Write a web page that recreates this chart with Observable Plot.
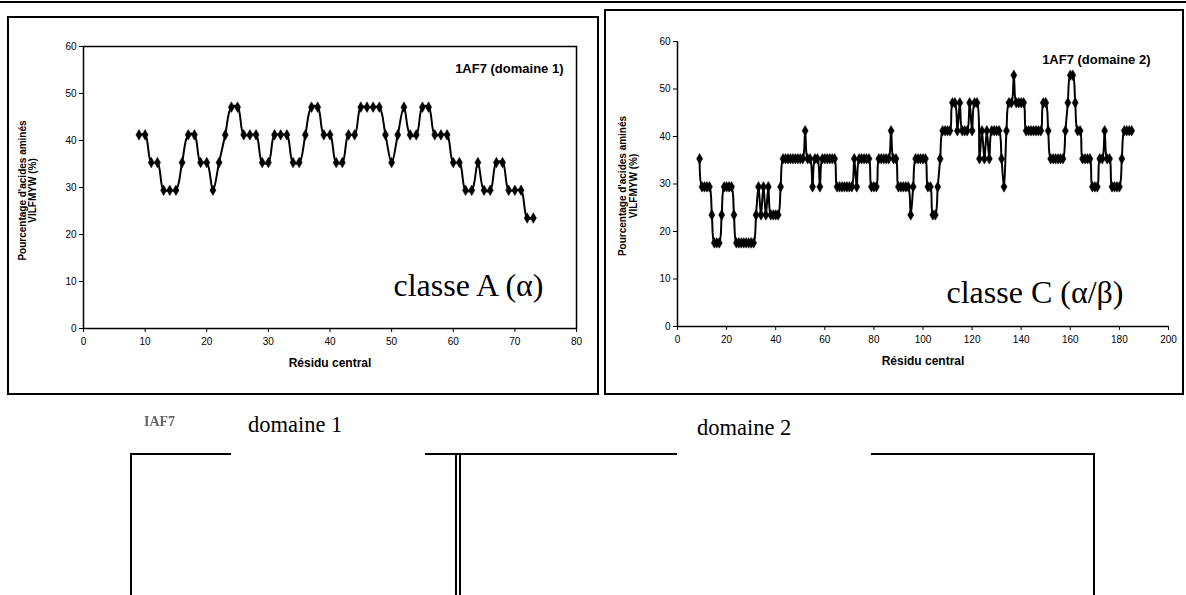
<!DOCTYPE html>
<html><head><meta charset="utf-8">
<script src="https://cdn.jsdelivr.net/npm/d3@7"></script>
<script src="https://cdn.jsdelivr.net/npm/@observablehq/plot@0.6"></script>
<style>
html,body{margin:0;padding:0;background:#fff;}
body{width:1186px;height:595px;position:relative;overflow:hidden;font-family:"Liberation Sans",Arial,sans-serif;}
.box{position:absolute;border:2px solid #000;box-sizing:border-box;}
.hl{position:absolute;height:2px;background:#000;}
.vl{position:absolute;width:2px;background:#000;}
.serif{position:absolute;font-family:"Liberation Serif","Times New Roman",serif;color:#000;white-space:nowrap;}
svg.chart{position:absolute;overflow:visible;}
</style></head><body>
<div class="hl" style="left:0;top:1px;width:1186px;"></div>
<div class="box" style="left:7px;top:16px;width:592px;height:379px;"></div>
<div class="box" style="left:604px;top:9px;width:580px;height:386px;"></div>

<div class="serif" style="left:144px;top:414px;font-size:14px;color:#666;filter:blur(0.6px);font-weight:bold;">IAF7</div>
<div class="serif" style="left:248px;top:412px;font-size:22.5px;">domaine 1</div>
<div class="serif" style="left:697px;top:415px;font-size:22.5px;">domaine 2</div>
<div class="hl" style="left:130px;top:453px;width:101px;"></div>
<div class="hl" style="left:425px;top:453px;width:33px;"></div>
<div class="hl" style="left:458px;top:453px;width:219px;"></div>
<div class="hl" style="left:871px;top:453px;width:224px;"></div>
<div class="vl" style="left:130px;top:453px;height:150px;"></div>
<div class="vl" style="left:455px;top:453px;height:150px;"></div>
<div class="vl" style="left:459px;top:453px;height:150px;width:1.5px;"></div>
<div class="vl" style="left:1093px;top:453px;height:150px;"></div>

<script>
// ---------- data ----------
const domain1Start = 9;
const domain1Values = [
  41.2, 41.2, 35.3, 35.3, 29.4, 29.4, 29.4, 35.3, 41.2, 41.2,
  35.3, 35.3, 29.4, 35.3, 41.2, 47.1, 47.1, 41.2, 41.2, 41.2,
  35.3, 35.3, 41.2, 41.2, 41.2, 35.3, 35.3, 41.2, 47.1, 47.1,
  41.2, 41.2, 35.3, 35.3, 41.2, 41.2, 47.1, 47.1, 47.1, 47.1,
  41.2, 35.3, 41.2, 47.1, 41.2, 41.2, 47.1, 47.1, 41.2, 41.2,
  41.2, 35.3, 35.3, 29.4, 29.4, 35.3, 29.4, 29.4, 35.3, 35.3,
  29.4, 29.4, 29.4, 23.5, 23.5
];
const domain2Start = 9;
const domain2Values = [
  35.3, 29.4, 29.4, 29.4, 29.4, 23.5, 17.6, 17.6, 17.6, 23.5,
  29.4, 29.4, 29.4, 29.4, 23.5, 17.6, 17.6, 17.6, 17.6, 17.6,
  17.6, 17.6, 17.6, 23.5, 29.4, 23.5, 29.4, 23.5, 29.4, 23.5,
  23.5, 23.5, 23.5, 29.4, 35.3, 35.3, 35.3, 35.3, 35.3, 35.3,
  35.3, 35.3, 35.3, 41.2, 35.3, 35.3, 29.4, 35.3, 35.3, 29.4,
  35.3, 35.3, 35.3, 35.3, 35.3, 35.3, 29.4, 29.4, 29.4, 29.4,
  29.4, 29.4, 29.4, 35.3, 29.4, 35.3, 35.3, 35.3, 35.3, 35.3,
  29.4, 29.4, 29.4, 35.3, 35.3, 35.3, 35.3, 35.3, 41.2, 35.3,
  35.3, 29.4, 29.4, 29.4, 29.4, 29.4, 23.5, 29.4, 35.3, 35.3,
  35.3, 35.3, 35.3, 29.4, 29.4, 23.5, 23.5, 29.4, 35.3, 41.2,
  41.2, 41.2, 41.2, 47.1, 47.1, 41.2, 47.1, 41.2, 41.2, 41.2,
  47.1, 41.2, 47.1, 47.1, 35.3, 41.2, 35.3, 41.2, 35.3, 41.2,
  41.2, 41.2, 41.2, 35.3, 29.4, 41.2, 47.1, 47.1, 52.9, 47.1,
  47.1, 47.1, 47.1, 41.2, 41.2, 41.2, 41.2, 41.2, 41.2, 41.2,
  47.1, 47.1, 41.2, 35.3, 35.3, 35.3, 35.3, 35.3, 35.3, 41.2,
  47.1, 52.9, 52.9, 47.1, 41.2, 41.2, 35.3, 35.3, 35.3, 35.3,
  29.4, 29.4, 29.4, 35.3, 35.3, 41.2, 35.3, 35.3, 29.4, 29.4,
  29.4, 29.4, 35.3, 41.2, 41.2, 41.2, 41.2
];
const xTicks1 = [0, 10, 20, 30, 40, 50, 60, 70, 80];
const xTicks2 = [0, 20, 40, 60, 80, 100, 120, 140, 160, 180, 200];
const yTicks = [0, 10, 20, 30, 40, 50, 60];
const chartTitles = ["1AF7 (domaine 1)", "1AF7 (domaine 2)"];
const classLabels = ["classe A (α)", "classe C (α/β)"];
const xLabel = "Résidu central";
const yLabelLine1 = "Pourcentage d'acides aminés";
const yLabelLine2 = "VILFMYW (%)";

function toRows(start, values) {
  return values.map((v, i) => ({x: start + i, y: v}));
}

function makeChart(cfg) {
  const rows = toRows(cfg.start, cfg.values);
  const marks = [
    Plot.axisX({ticks: cfg.xTicks, tickSize: 4, tickPadding: 5, label: null, fontSize: 10, tickFormat: d => String(d)}),
    Plot.axisY({ticks: yTicks, tickSize: 4, tickPadding: 3, label: null, fontSize: 10, tickFormat: d => String(d)}),
  ];
  if (cfg.frame) marks.push(Plot.frame({stroke: "#000", strokeWidth: 1.5}));
  else {
    marks.push(Plot.ruleX([cfg.xDomain[0]], {stroke: "#000", strokeWidth: 1.5}));
    marks.push(Plot.ruleY([0], {stroke: "#000", strokeWidth: 1.5}));
  }
  marks.push(
    Plot.line(rows, {x: "x", y: "y", stroke: "#000", strokeWidth: 2, curve: "catmull-rom"}),
    Plot.dot(rows, {x: "x", y: "y", symbol: "diamond", r: 3.2, fill: "#000", stroke: "#000", strokeWidth: 0.5}),
    Plot.text([cfg.title], {frameAnchor: "top-right", dx: cfg.titleDx, dy: cfg.titleDy, fontWeight: "bold", fontSize: 13, fill: "#000"}),
    Plot.text([cfg.cls], {frameAnchor: "bottom-right", dx: cfg.clsDx, dy: cfg.clsDy, fontSize: 32, fontFamily: "Liberation Serif, Times New Roman, serif", fill: "#000", lineAnchor: "bottom"}),
    Plot.text([xLabel], {frameAnchor: "bottom", dy: 38, fontWeight: "bold", fontSize: 12, fill: "#000"}),
    Plot.text([yLabelLine1], {frameAnchor: "left", textAnchor: "middle", dx: cfg.yl1, dy: cfg.ylDy, rotate: -90, fontWeight: "bold", fontSize: 10, fill: "#000"}),
    Plot.text([yLabelLine2], {frameAnchor: "left", textAnchor: "middle", dx: cfg.yl2, dy: cfg.ylDy, rotate: -90, fontWeight: "bold", fontSize: 10, fill: "#000"})
  );
  const svg = Plot.plot({
    width: cfg.width, height: cfg.height,
    marginLeft: cfg.ml, marginRight: cfg.mr, marginTop: cfg.mt, marginBottom: cfg.mb,
    x: {domain: cfg.xDomain, nice: false},
    y: {domain: [0, 60], nice: false},
    style: {fontFamily: "Liberation Sans, Arial, sans-serif", fontSize: "10px", color: "#000", background: "transparent", overflow: "visible"},
    marks
  });
  svg.classList.add("chart");
  svg.style.left = cfg.left + "px";
  svg.style.top = cfg.top + "px";
  document.body.appendChild(svg);
}

makeChart({
  start: domain1Start, values: domain1Values, xTicks: xTicks1, xDomain: [0, 80],
  left: 0, top: 0, width: 600, height: 400, ml: 83, mr: 24, mt: 46, mb: 72,
  frame: true, title: chartTitles[0], titleDx: -13, titleDy: 17,
  cls: classLabels[0], clsDx: -33, clsDy: -33, yl1: -61, yl2: -51, ylDy: 3
});
makeChart({
  start: domain2Start, values: domain2Values, xTicks: xTicks2, xDomain: [0, 200],
  left: 600, top: 0, width: 586, height: 400, ml: 77, mr: 18, mt: 41, mb: 74,
  frame: false, title: chartTitles[1], titleDx: -18, titleDy: 13,
  cls: classLabels[1], clsDx: -45, clsDy: -24, yl1: -55, yl2: -44, ylDy: 2
});
</script>
</body></html>
